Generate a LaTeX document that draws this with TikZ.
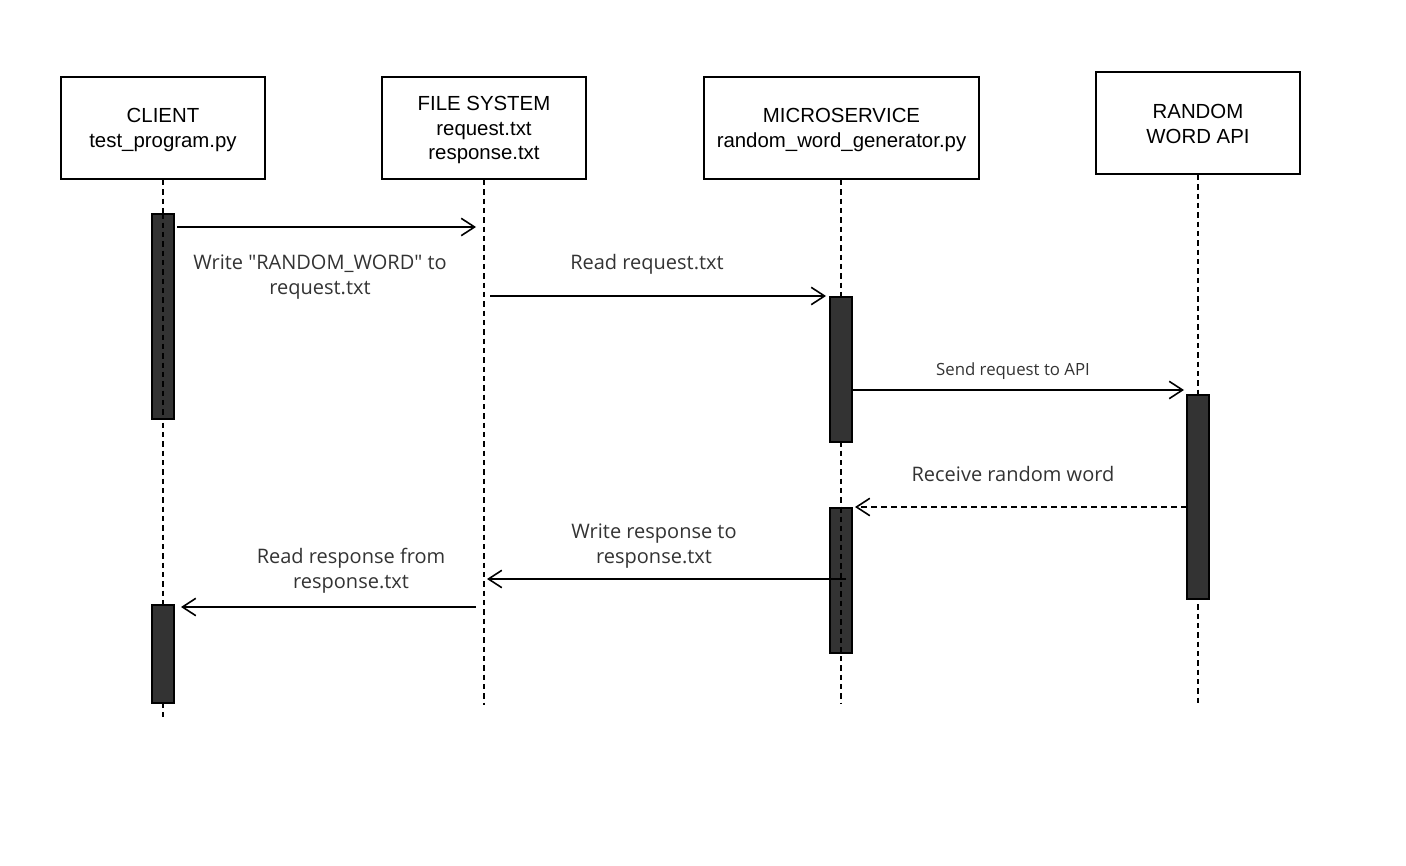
\documentclass[tikz,border=0pt]{standalone}
\usepackage{fontspec}
\setmainfont{Liberation Sans}
\newfontfamily\lblfont{Open Sans}
\usetikzlibrary{arrows.meta}
\definecolor{barfill}{HTML}{333333}
\definecolor{lblcol}{HTML}{333333}
\begin{document}
\begin{tikzpicture}[x=0.75pt,y=-0.75pt,
  actor/.style={draw=black, line width=1.5pt, fill=white, minimum width=153pt, minimum height=76.5pt, inner sep=0pt},
  actortext/.style={align=center, inner sep=0pt, font=\fontsize{15.3}{18.6}\selectfont},
  actbar/.style={draw=black, line width=1.1pt, fill=barfill, minimum width=16.5pt, inner sep=0pt},
  lifeline/.style={line width=1.1pt, dash pattern=on 4pt off 3pt},
  msg/.style={line width=1.2pt, -{Straight Barb[length=10pt,width=13pt,line width=1.2pt]}},
  ret/.style={msg, dash pattern=on 4.5pt off 3pt},
  lbl/.style={text=lblcol, align=center, inner sep=0pt, font=\lblfont\fontsize{15}{18.75}\selectfont},
  lblsmall/.style={lbl, font=\lblfont\fontsize{12.6}{15}\selectfont}]
\useasboundingbox (0,0) rectangle (1406,866);
% actors
\node[actor] (client) at (163,128) {};
\node[actor] (fs) at (484,128) {};
\node[actor, minimum width=206.25pt] (ms) at (841.5,128) {};
\node[actor] (api) at (1198,123) {};
\node[actortext] (clientT) at (163,130) {CLIENT\\test\_program.py};
\node[actortext] (fsT) at (484,130) {FILE SYSTEM\\request.txt\\response.txt};
\node[actortext] (msT) at (841.5,130) {MICROSERVICE\\random\_word\_generator.py};
\node[actortext] (apiT) at (1198,124) {RANDOM\\WORD API};
% lifeline ends
\coordinate (clientEnd) at (163,718);
\coordinate (fsEnd) at (484,705);
\coordinate (msEnd) at (841,703);
\coordinate (apiEnd) at (1198,706);
\draw[lifeline] (client.south) -- (clientEnd);
\draw[lifeline] (fs.south) -- (fsEnd);
\draw[lifeline] (ms.south -| msEnd) -- (msEnd);
\draw[lifeline] (api.south) -- (apiEnd);
% activation bars
\node[actbar, minimum height=153.75pt] (cb1) at (163,316.5) {};
\node[actbar, minimum height=73.5pt] (cb2) at (163,654) {};
\node[actbar, minimum height=108.75pt] (mb1) at (841,369.5) {};
\node[actbar, minimum height=108.75pt] (mb2) at (841,580.5) {};
\node[actbar, minimum height=153pt] (ab1) at (1198,497) {};
% lifeline visible over some bars
\draw[lifeline] (cb1.north) -- (cb1.south);
\draw[lifeline] (mb2.north) -- (mb2.south);
% message end points
\coordinate (m1s) at (177,227);
\coordinate (m1e) at (476,227);
\coordinate (m2s) at (490,296);
\coordinate (m2e) at (826,296);
\coordinate (m3s) at (852,390);
\coordinate (m3e) at (1184,390);
\coordinate (m4s) at (1187,507);
\coordinate (m4e) at (855,507);
\coordinate (m5s) at (846,579);
\coordinate (m5e) at (487,579);
\coordinate (m6s) at (476,607);
\coordinate (m6e) at (181,607);
\draw[msg] (m1s) -- (m1e);
\draw[msg] (m2s) -- (m2e);
\draw[msg] (m3s) -- (m3e);
\draw[ret] (m4s) -- (m4e);
\draw[msg] (m5s) -- (m5e);
\draw[msg] (m6s) -- (m6e);
% labels
\node[lbl] (l1) at (320,277) {Write "RANDOM\_WORD" to\\request.txt};
\node[lbl] (l2) at (647,264) {Read request.txt};
\node[lblsmall] (l3) at (1013,371) {Send request to API};
\node[lbl] (l4) at (1013,474) {Receive random word};
\node[lbl] (l5) at (654,546) {Write response to\\response.txt};
\node[lbl] (l6) at (351,571) {Read response from\\response.txt};
\end{tikzpicture}
\end{document}
